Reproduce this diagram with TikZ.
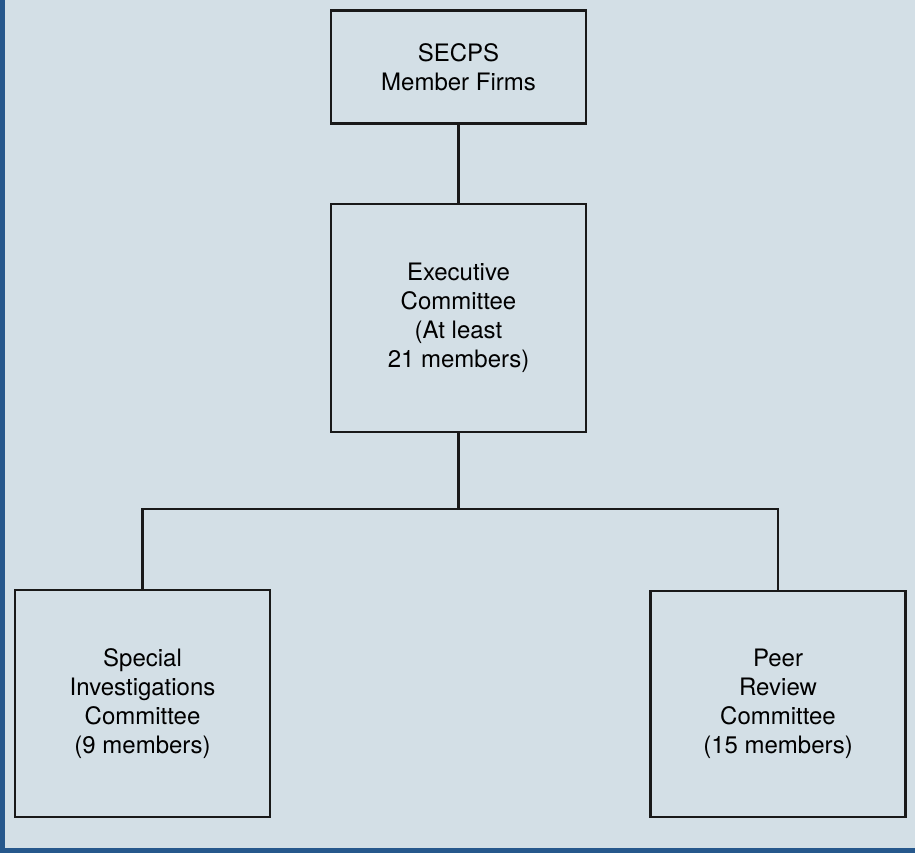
\documentclass[tikz,border=0pt]{standalone}
\usepackage{fontspec}
\setmainfont{TeX Gyre Heros}
\usepackage{tikz}
\usetikzlibrary{calc, positioning}
\definecolor{paper}{RGB}{211,223,230}
\definecolor{edgeblue}{RGB}{38,88,140}
\tikzstyle{unit} = [rectangle, draw=black!90, line width=2.9pt, inner sep=0pt, align=center, font=\fontsize{24}{29}\selectfont, minimum width=255pt]
\tikzstyle{link} = [draw=black!90, line width=2.9pt]

\begin{document}
\begin{tikzpicture}[x=1pt, y=-1pt]
	\useasboundingbox (0,0) rectangle (915,853);
	\fill[paper] (0,0) rectangle (915,853);
	\fill[edgeblue] (0,0) rectangle (5,853);
	\fill[edgeblue] (0,848) rectangle (915,853);
	% committees
	\node (Firms) [unit, minimum height=113pt] at (458.5,67) {SECPS\\Member Firms};
	\node (Executive) [unit, minimum height=228pt] at (458.5,318) {Executive\\Committee\\(At least\\21 members)};
	\node (Special) [unit, minimum height=227pt] at (142.5,703.5) {Special\\Investigations\\Committee\\(9 members)};
	\node (Peer) [unit, minimum height=226pt] at (778,704) {Peer\\Review\\Committee\\(15 members)};
	\coordinate (Split) at ($(Executive.south |- 0,509)$);
	% connectors
	\draw [link] (Firms) -- (Executive);
	\draw [link] (Executive) -- (Split);
	\draw [link] (Special) |- (Split) -| (Peer);
\end{tikzpicture}
\end{document}
